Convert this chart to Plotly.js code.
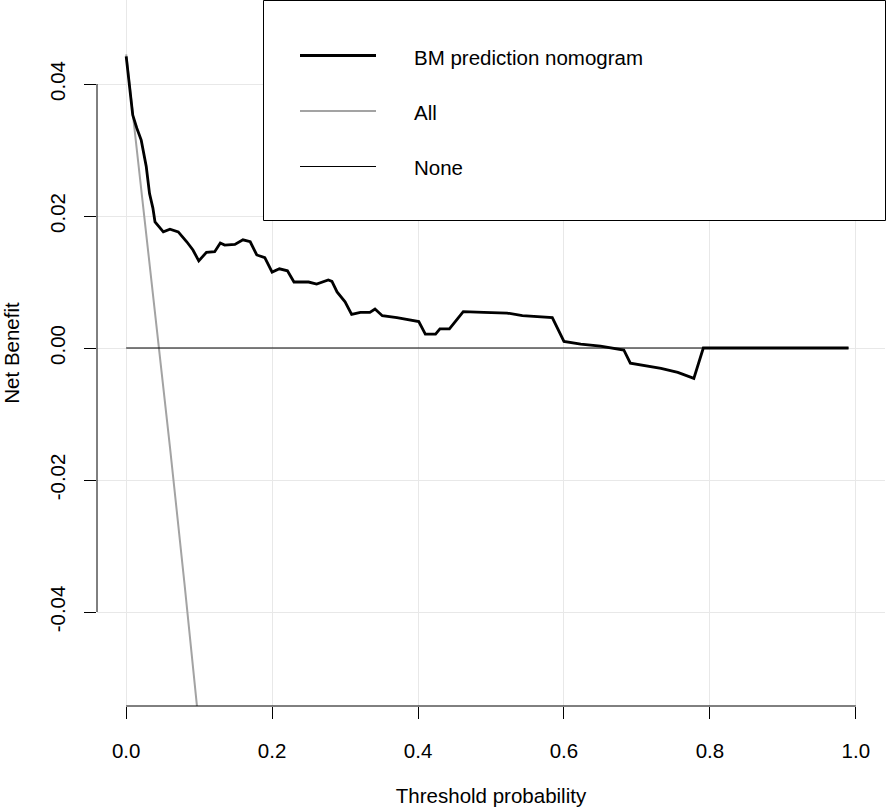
<!DOCTYPE html>
<html>
<head>
<meta charset="utf-8">
<script src="https://cdn.plot.ly/plotly-3.0.1.min.js"></script>
<style>
  html, body { margin: 0; padding: 0; background: #fff; }
  #chart { width: 886px; height: 808px; }
</style>
</head>
<body>
<div id="chart"></div>
<script>
// ---- data ----
const bmThreshold = [0.000, 0.0045, 0.009, 0.0146, 0.0206, 0.0275, 0.032, 0.0366, 0.0395, 0.0509, 0.060, 0.0714, 0.080, 0.083, 0.0915, 0.0995,
  0.110, 0.1213, 0.129, 0.135, 0.149, 0.160, 0.170, 0.179, 0.190, 0.200, 0.210, 0.221, 0.230, 0.250, 0.261, 0.277, 0.282, 0.289,
  0.300, 0.309, 0.321, 0.334, 0.341, 0.351, 0.371, 0.401, 0.410, 0.424, 0.430, 0.443, 0.451, 0.462, 0.490, 0.522, 0.543, 0.563,
  0.584, 0.600, 0.623, 0.650, 0.673, 0.682, 0.691, 0.719, 0.733, 0.756, 0.778, 0.791, 0.990];
const bmNetBenefit = [0.0442, 0.0401, 0.0353, 0.0333, 0.0315, 0.0275, 0.0234, 0.0212, 0.0191, 0.0176, 0.0180, 0.0176, 0.0166, 0.0161, 0.01485, 0.0132,
  0.0145, 0.0146, 0.0159, 0.0156, 0.0157, 0.0164, 0.0161, 0.0141, 0.0137, 0.0115, 0.0120, 0.0117, 0.0100, 0.0100, 0.0097, 0.0103, 0.0101, 0.0085,
  0.0070, 0.0051, 0.0054, 0.0054, 0.0059, 0.0049, 0.0046, 0.0040, 0.0021, 0.0021, 0.0029, 0.0029, 0.0040, 0.0055, 0.0054, 0.0053, 0.0049, 0.00475,
  0.0046, 0.0010, 0.0006, 0.0003, -0.0001, -0.0003, -0.0023, -0.0028, -0.0031, -0.0037, -0.0046, 0.0000, 0.0000];

const allThreshold = [0.00, 0.02, 0.04, 0.06, 0.08, 0.10];
const allNetBenefit = [0.0445, 0.0249, 0.0053, -0.0150, -0.0358, -0.0575];

const noneThreshold = [0.00, 0.99];
const noneNetBenefit = [0, 0];

const xTickVals = [0, 0.2, 0.4, 0.6, 0.8, 1.0];
const xTickText = ["0.0", "0.2", "0.4", "0.6", "0.8", "1.0"];
const yTickVals = [-0.04, -0.02, 0.00, 0.02, 0.04];
const yTickText = ["-0.04", "-0.02", "0.00", "0.02", "0.04"];

const seriesNames = ["BM prediction nomogram", "All", "None"];
const seriesColors = ["#000000", "#a3a3a3", "#000000"];
const seriesWidths = [2.8, 2, 1.2];

// ---- geometry helpers (pixel -> paper) ----
const W = 886, H = 808;
const M = { l: 97, r: 1, t: 0, b: 102 };
const PW = W - M.l - M.r, PH = H - M.t - M.b;
const px = x => (x - M.l) / PW;
const py = y => (M.t + PH - y) / PH;

const FONT = "Liberation Sans, Arial, Helvetica, sans-serif";
const FS = 20.5;

const traces = [
  { x: allThreshold, y: allNetBenefit, type: "scatter", mode: "lines", name: seriesNames[1],
    line: { color: seriesColors[1], width: seriesWidths[1] }, hoverinfo: "skip" },
  { x: noneThreshold, y: noneNetBenefit, type: "scatter", mode: "lines", name: seriesNames[2],
    line: { color: seriesColors[2], width: seriesWidths[2] }, hoverinfo: "skip" },
  { x: bmThreshold, y: bmNetBenefit, type: "scatter", mode: "lines", name: seriesNames[0],
    line: { color: seriesColors[0], width: seriesWidths[0] }, hoverinfo: "skip" }
];

// legend drawn like R's legend("topright")
const legendRows = [57, 112, 167];
const legendLineY = [55.5, 111, 166.5];
const shapes = [
  // axis lines spanning the tick range only (as R's axis())
  { type: "line", xref: "x", yref: "paper", x0: xTickVals[0], x1: xTickVals[xTickVals.length - 1], y0: 0, y1: 0,
    line: { color: "#000", width: 1 } },
  { type: "line", xref: "paper", yref: "y", x0: 0, x1: 0, y0: yTickVals[0], y1: yTickVals[yTickVals.length - 1],
    line: { color: "#000", width: 1 } },
  // legend box
  { type: "rect", xref: "paper", yref: "paper", x0: px(263.5), x1: px(885.5), y0: py(0.5), y1: py(220.5),
    line: { color: "#000", width: 1 }, fillcolor: "rgba(255,255,255,1)" }
];
const annotations = [];
seriesNames.forEach((name, i) => {
  shapes.push({ type: "line", xref: "paper", yref: "paper", x0: px(300), x1: px(376),
    y0: py(legendLineY[i]), y1: py(legendLineY[i]), line: { color: seriesColors[i], width: seriesWidths[i] + (i === 0 ? 0.3 : 0) } });
  annotations.push({ xref: "paper", yref: "paper", x: px(412), y: py(legendRows[i]), xanchor: "left", yanchor: "middle",
    text: name, showarrow: false, font: { family: FONT, size: FS, color: "#000" } });
});

const layout = {
  width: W, height: H,
  margin: { l: M.l, r: M.r, t: M.t, b: M.b, pad: 0 },
  paper_bgcolor: "#ffffff", plot_bgcolor: "#ffffff",
  font: { family: FONT, size: FS, color: "#000" },
  showlegend: false,
  xaxis: {
    range: [-0.04, 1.04], tickmode: "array", tickvals: xTickVals, ticktext: xTickText,
    ticks: "outside", ticklen: 12, tickwidth: 1, tickcolor: "#000",
    showgrid: true, gridcolor: "#e8e8e8", gridwidth: 1, zeroline: false, showline: false,
    ticklabelstandoff: 14, tickfont: { family: FONT, size: FS, color: "#000" },
    title: { text: "Threshold probability", standoff: 28, font: { family: FONT, size: FS, color: "#000" } },
    fixedrange: true
  },
  yaxis: {
    range: [-0.05424, 0.05273], tickmode: "array", tickvals: yTickVals, ticktext: yTickText, tickangle: -90,
    ticks: "outside", ticklen: 12, tickwidth: 1, tickcolor: "#000",
    showgrid: true, gridcolor: "#e8e8e8", gridwidth: 1, zeroline: false, showline: false,
    ticklabelstandoff: 11, tickfont: { family: FONT, size: FS, color: "#000" },
    title: { text: "Net Benefit", standoff: 36, font: { family: FONT, size: FS, color: "#000" } },
    fixedrange: true
  },
  shapes: shapes,
  annotations: annotations
};

Plotly.newPlot("chart", traces, layout, { displayModeBar: false, staticPlot: true });
</script>
</body>
</html>
